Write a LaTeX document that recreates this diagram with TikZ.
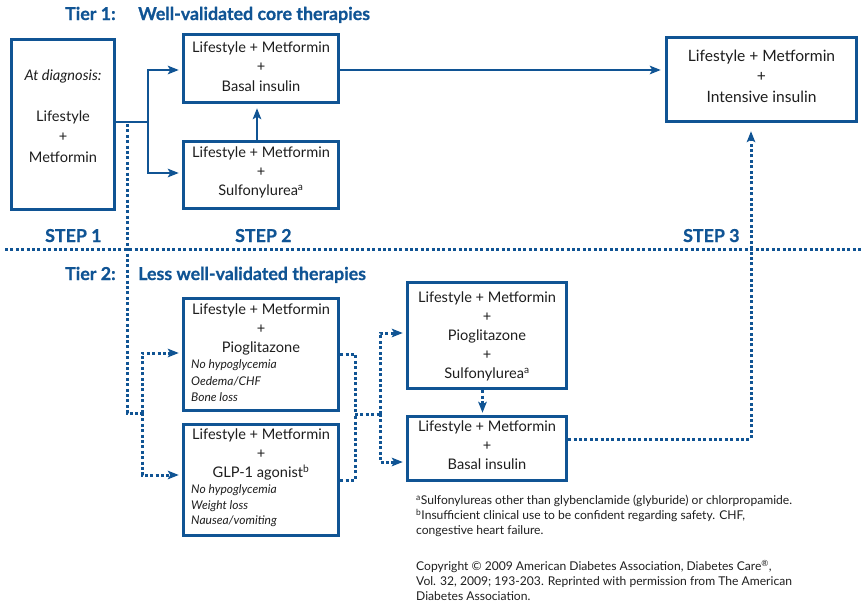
\documentclass[tikz,border=0pt]{standalone}
\usepackage{fontspec}
\setmainfont{Lato}
\usetikzlibrary{arrows.meta,calc}
\definecolor{adablue}{RGB}{16,84,148}
\definecolor{ink}{RGB}{30,30,30}
\begin{document}
\begin{tikzpicture}[x=1pt,y=-1pt,
  box/.style={draw=adablue,line width=3.4pt,inner sep=0pt,fill=white},
  txt/.style={text=ink,inner sep=0pt,anchor=north,align=center,font=\fontsize{14.6}{19}\selectfont},
  note/.style={text=ink,inner sep=0pt,anchor=north west,align=left,font=\fontsize{12}{16.5}\selectfont\itshape},
  foot/.style={text=ink,inner sep=0pt,anchor=north west,align=left,font=\fontsize{12.1}{15}\selectfont},
  head/.style={text=adablue,inner sep=0pt,anchor=base west,font=\fontsize{17.8}{20}\selectfont\bfseries\addfontfeature{FakeBold=0.8}},
  conn/.style={draw=adablue,line width=2.8pt},
  tip/.style={-{Stealth[length=11pt,width=8.5pt,inset=2.5pt]},shorten >=3pt},
  dots/.style={draw=adablue,line width=3pt,dash pattern=on 3pt off 2.4pt},
]
\useasboundingbox (0,0) rectangle (867,606);

% headings
\node[head] (t1a) at (65,20) {Tier 1:};
\node[head] (t1b) at (138,20) {Well-validated core therapies};
\node[head] (s1) at (45,242) {STEP 1};
\node[head] (s2) at (235,242) {STEP 2};
\node[head] (s3) at (683,242) {STEP 3};
\node[head] (t2a) at (65,280) {Tier 2:};
\node[head] (t2b) at (138,280) {Less well-validated therapies};

% separator between the tiers
\coordinate (sepL) at (5,249);
\coordinate (sepR) at (862,249);
\draw[dots] (sepL) -- (sepR);

% boxes
\node[box,minimum width=103pt,minimum height=170pt] (A) at (63,124.5) {};
\node[box,minimum width=155pt,minimum height=68pt] (B) at (261,68.5) {};
\node[box,minimum width=155pt,minimum height=67pt] (C) at (261,175) {};
\node[box,minimum width=190pt,minimum height=84pt] (D) at (761.5,79.5) {};
\node[box,minimum width=155pt,minimum height=112pt] (E) at (261,354.5) {};
\node[box,minimum width=155pt,minimum height=111pt] (F) at (261,480) {};
\node[box,minimum width=159pt,minimum height=106pt] (G) at (487,335.5) {};
\node[box,minimum width=159pt,minimum height=64pt] (H) at (487,448.5) {};

% box texts
\node[txt,font=\fontsize{14.6}{20.5}\selectfont\itshape] (Aa) at (63,69.5) {At diagnosis:};
\node[txt,font=\fontsize{14.6}{20.5}\selectfont] (Ab) at (63,110.5) {Lifestyle\\+\\Metformin};
\node[txt,font=\fontsize{14.6}{19.5}\selectfont] (Bt) at (261,41.5) {Lifestyle + Metformin\\+\\Basal insulin};
\node[txt] (Ct) at (261,146.5) {Lifestyle + Metformin\\+\\Sulfonylurea\textsuperscript{a}};
\node[txt,font=\fontsize{15.6}{20.5}\selectfont] (Dt) at (761.5,49.5) {Lifestyle + Metformin\\+\\Intensive insulin};
\node[txt] (Et) at (261,303.5) {Lifestyle + Metformin\\+\\Pioglitazone};
\node[note] (En) at (191,359.5) {No hypoglycemia\\Oedema/CHF\\Bone loss};
\node[txt] (Ft) at (261,428.5) {Lifestyle + Metformin\\+\\GLP-1 agonist\textsuperscript{b}};
\node[note,font=\fontsize{12}{15.5}\selectfont\itshape] (Fn) at (191,484.5) {No hypoglycemia\\Weight loss\\Nausea/vomiting};
\node[txt] (Gt) at (487,291.5) {Lifestyle + Metformin\\+\\Pioglitazone\\+\\Sulfonylurea\textsuperscript{a}};
\node[txt] (Ht) at (487,420.5) {Lifestyle + Metformin\\+\\Basal insulin};

% footnotes
\node[foot] (fn) at (416,495) {\textsuperscript{a}Sulfonylureas other than glybenclamide (glyburide) or chlorpropamide.\\
\textsuperscript{b}Insufficient clinical use to be confident regarding safety. CHF,\\
congestive heart failure.};
\node[foot] (cr) at (416,560) {Copyright © 2009 American Diabetes Association, Diabetes Care\textsuperscript{®},\\
Vol. 32, 2009; 193-203. Reprinted with permission from The American\\
Diabetes Association.};

% tier 1 connectors
\coordinate (fork) at (148,122);
\draw[conn] (A.east |- fork) -- (fork);
\draw[conn,tip] (fork) |- ([yshift=-1.5pt]B.west);
\draw[conn,tip] (fork) |- ([yshift=2pt]C.west);
\draw[conn,tip,shorten >=4pt] ([xshift=-4pt]C.north) -- ([xshift=-4pt]B.south);
\coordinate (bD) at ([yshift=-1.5pt]B.east);
\draw[conn,tip,shorten >=4pt] (bD) -- (bD -| D.west);

% tier 2 connectors
\coordinate (d0) at (127,124);
\coordinate (d1) at (127,413);
\coordinate (d2) at (142,413);
\draw[dots] (d0) -- (d1) -- (d2);
\draw[dots,tip] (d2) |- ([yshift=1.5pt]E.west);
\draw[dots,tip] (d2) |- ([yshift=5pt]F.west);

\coordinate (m1) at (355,414);
\coordinate (m2) at (380,414);
\draw[dots] ([yshift=0.5pt]E.east) -| (m1);
\draw[dots] (F.east) -| (m1);
\draw[dots] (m1) -- (m2);
\draw[dots,tip] (m2) |- ([yshift=2.5pt]G.west);
\draw[dots,tip] (m2) |- ([yshift=-13.5pt]H.west);

\draw[dots,tip,shorten >=2pt] ([xshift=-4.5pt]G.south) -- ([xshift=-4.5pt]H.north);

\coordinate (hD) at ([yshift=9.5pt]H.east);
\draw[dots,tip,shorten >=8pt] (hD) -| ([xshift=-10.5pt]D.south);
\end{tikzpicture}
\end{document}
